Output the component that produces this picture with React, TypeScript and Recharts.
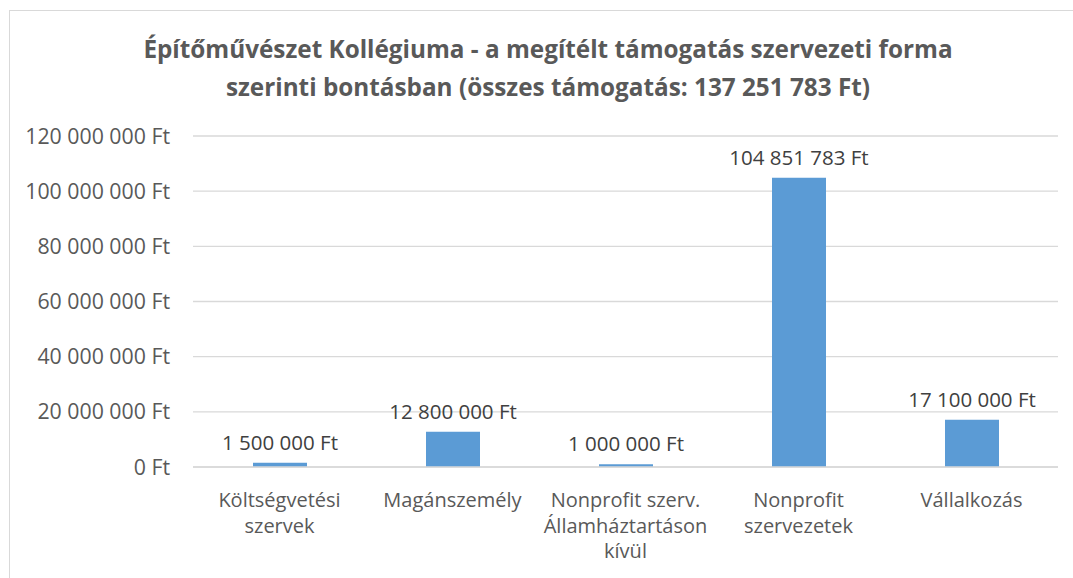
import React from "react";
import { Bar, BarChart, CartesianGrid, LabelList, XAxis, YAxis } from "recharts";

const categories = [
  "Költségvetési\nszervek",
  "Magánszemély",
  "Nonprofit szerv.\nÁllamháztartáson\nkívül",
  "Nonprofit\nszervezetek",
  "Vállalkozás",
];
const amounts = [1500000, 12800000, 1000000, 104851783, 17100000];
const yTicks = [0, 20000000, 40000000, 60000000, 80000000, 100000000, 120000000];
const titleLines = [
  "Építőművészet Kollégiuma - a megítélt támogatás szervezeti forma",
  "szerinti bontásban (összes támogatás: 137 251 783 Ft)",
];

const FONT = "'Open Sans', 'Noto Sans', sans-serif";

const fmt = (v: number) =>
  String(Math.round(v)).replace(/\B(?=(\d{3})+(?!\d))/g, " ") + " Ft";

const data = categories.map((c, i) => ({ name: c, value: amounts[i] }));

function CategoryTick(props: any) {
  const { x, y, payload } = props;
  const lines = String(payload.value).split("\n");
  return (
    <text x={x} y={y} textAnchor="middle" fill="#595959" fontSize={20} fontFamily={FONT}>
      {lines.map((l, i) => (
        <tspan key={i} x={x} dy={i === 0 ? 32 : 25.5}>
          {l}
        </tspan>
      ))}
    </text>
  );
}

function ValueLabel(props: any) {
  const { x, y, width, value } = props;
  return (
    <text
      x={x + width / 2}
      y={y - 13}
      textAnchor="middle"
      fill="#404040"
      fontSize={20.5}
      fontFamily={FONT}
    >
      {fmt(Number(value))}
    </text>
  );
}

export default function App() {
  return (
    <div style={{ position: "fixed", left: 0, top: 0, width: 1073, height: 578, overflow: "hidden", background: "#fff" }}>
      <div
        style={{
          position: "absolute",
          left: 9,
          top: 10,
          width: 1200,
          height: 700,
          borderLeft: "1.5px solid #d9d9d9",
          borderTop: "1.5px solid #d9d9d9",
        }}
      />
      <div
        style={{
          position: "absolute",
          left: 23,
          top: 30,
          width: 1050,
          textAlign: "center",
          fontFamily: FONT,
          fontWeight: 700,
          fontSize: 24.3,
          lineHeight: "38px",
          color: "#595959",
        }}
      >
        {titleLines.map((t) => (
          <div key={t}>{t}</div>
        ))}
      </div>
      <div style={{ position: "absolute", left: 0, top: 0 }}>
        <BarChart
          width={1073}
          height={578}
          data={data}
          margin={{ top: 136, right: 15, bottom: 0, left: 0 }}
        >
          <CartesianGrid vertical={false} stroke="#d9d9d9" strokeWidth={1.3} />
          <XAxis
            dataKey="name"
            interval={0}
            tick={<CategoryTick />}
            tickLine={false}
            axisLine={{ stroke: "#d9d9d9", strokeWidth: 1.3 }}
            height={111}
          />
          <YAxis
            domain={[0, 120000000]}
            ticks={yTicks}
            width={193}
            tickFormatter={fmt}
            axisLine={false}
            tickLine={false}
            tickSize={0}
            tickMargin={23}
            tick={{ fill: "#595959", fontSize: 21.3, fontFamily: FONT }}
          />
          <Bar dataKey="value" fill="#5b9bd5" barSize={54} isAnimationActive={false}>
            <LabelList dataKey="value" content={<ValueLabel />} />
          </Bar>
        </BarChart>
      </div>
    </div>
  );
}
